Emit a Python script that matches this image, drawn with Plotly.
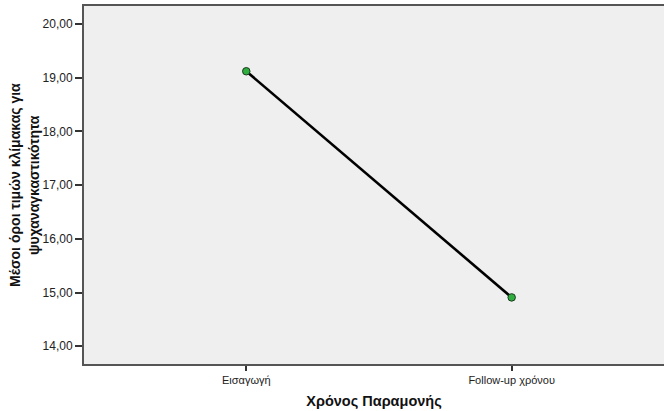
import plotly.graph_objects as go

categories = ["Εισαγωγή", "Follow-up χρόνου"]
means = [19.12, 14.91]
y_ticks = [14, 15, 16, 17, 18, 19, 20]
y_title_lines = ["Μέσοι όροι τιμών κλίμακας για", "ψυχαναγκαστικότητα"]

fig = go.Figure()
fig.add_trace(go.Scatter(
    x=categories, y=means, mode="lines+markers",
    line=dict(color="black", width=2.6),
    marker=dict(size=7.5, color="#2fae3f", line=dict(color="#1a3a1f", width=1)),
    showlegend=False, hoverinfo="skip",
))

fig.update_layout(
    width=664, height=411,
    margin=dict(l=84, r=0, t=6, b=47),
    paper_bgcolor="white", plot_bgcolor="#efefef",
    separators=",.",
    font=dict(family="Liberation Sans, Arial, sans-serif", color="#222"),
    xaxis=dict(
        type="category", range=[-0.6115, 1.574],
        showline=True, linecolor="#555", linewidth=2, mirror=True,
        ticks="outside", ticklen=5, tickcolor="#333", tickwidth=1.5,
        showgrid=False, zeroline=False,
        tickfont=dict(size=11, color="#222"),
        title=dict(text="<b>Χρόνος Παραμονής</b>", font=dict(size=14.5, color="#111"), standoff=11),
    ),
    yaxis=dict(
        range=[13.67, 20.335], tickvals=y_ticks, tickformat=".2f",
        showline=True, linecolor="#555", linewidth=2,
        ticks="outside", ticklen=7, tickcolor="#333", tickwidth=1.5,
        showgrid=False, zeroline=False,
        tickfont=dict(size=12, color="#222"),
    ),
    annotations=[
        dict(text=f"<b>{line}</b>", xref="paper", yref="paper", x=0, y=0.5,
             xanchor="center", yanchor="middle", xshift=shift, textangle=-90,
             showarrow=False, font=dict(size=14, color="#111"))
        for line, shift in zip(y_title_lines, [-69, -50])
    ],
)

fig.write_html("out.html", config={"displayModeBar": False},
               post_script="document.body.style.margin='0';document.body.style.padding='0';")
